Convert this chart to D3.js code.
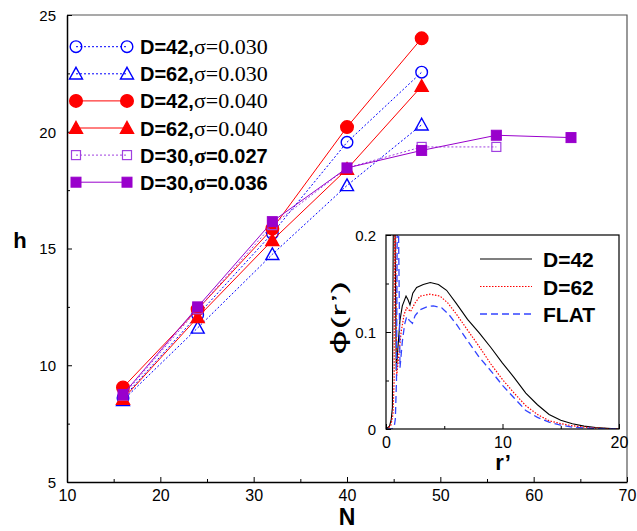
<!DOCTYPE html>
<html><head><meta charset="utf-8">
<script src="https://cdn.jsdelivr.net/npm/d3@7"></script>
<style>body{margin:0;background:#fff}svg{display:block}</style>
</head><body>
<svg id="c" width="637" height="531"></svg>
<script>
// ---------- data ----------
const N_values = [16, 24, 32, 40, 48, 56, 64];
const h_D42_s030 = [8.6, 12.15, 15.65, 19.55, 22.55];
const h_D62_s030 = [8.5, 11.6, 14.75, 17.7, 20.3];
const h_D42_s040 = [9.05, 12.4, 15.85, 20.2, 24.0];
const h_D62_s040 = [8.55, 12.05, 15.35, 18.4, 21.95];
const h_D30_s027 = [8.7, 12.4, 16.0, 18.45, 19.35, 19.35];
const h_D30_s036 = [8.75, 12.5, 16.15, 18.45, 19.2, 19.85, 19.75];
const xTicks = [10, 20, 30, 40, 50, 60, 70];
const yTicks = [5, 10, 15, 20, 25];

const r_D42 = [0, 0.3, 0.45, 0.55, 0.6, 0.68, 0.78, 0.88, 1.0, 1.2, 1.4, 1.72, 1.9, 2.06, 2.3, 2.63, 3.2, 3.8, 4.5, 5.2, 6.0, 7.0, 8.0, 9.0, 10.0, 11.0, 12.0, 13.0, 14.0, 15.0, 16.0, 17.0, 18.0, 19.0, 20.0];
const phi_D42 = [0, 0.003, 0.01, 0.022, 0.15, 0.32, 0.2, 0.06, 0.08, 0.112, 0.127, 0.137, 0.133, 0.128, 0.14, 0.146, 0.149, 0.151, 0.149, 0.143, 0.13, 0.113, 0.099, 0.084, 0.068, 0.053, 0.037, 0.025, 0.015, 0.009, 0.0055, 0.003, 0.0016, 0.0007, 0];
const r_D62 = [0, 0.4, 0.6, 0.7, 0.76, 0.83, 0.92, 1.05, 1.3, 1.55, 1.78, 1.95, 2.1, 2.5, 2.92, 3.78, 4.64, 5.3, 6.07, 7.0, 8.0, 9.0, 10.0, 11.0, 12.0, 13.0, 14.0, 15.0, 16.0, 17.0, 18.0, 19.0, 20.0];
const phi_D62 = [0, 0.003, 0.015, 0.05, 0.32, 0.2, 0.055, 0.07, 0.1, 0.118, 0.125, 0.123, 0.121, 0.13, 0.137, 0.139, 0.137, 0.13, 0.118, 0.102, 0.085, 0.067, 0.051, 0.037, 0.024, 0.015, 0.0085, 0.0055, 0.0033, 0.002, 0.001, 0.0005, 0];
const r_FLAT = [0, 0.5, 0.7, 0.8, 0.9, 1.0, 1.08, 1.2, 1.4, 1.6, 1.78, 2.0, 2.27, 2.5, 2.92, 3.5, 4.06, 4.78, 5.4, 6.07, 7.0, 8.0, 9.0, 10.0, 11.0, 12.0, 13.0, 14.0, 15.0, 16.0, 17.0, 18.0, 19.0, 20.0];
const phi_FLAT = [0, 0, 0.002, 0.01, 0.05, 0.3, 0.2, 0.063, 0.09, 0.108, 0.116, 0.112, 0.109, 0.117, 0.123, 0.126, 0.127, 0.125, 0.118, 0.1075, 0.091, 0.074, 0.06, 0.045, 0.032, 0.019, 0.012, 0.007, 0.004, 0.002, 0.001, 0.0005, 0.0002, 0];
const insetXTicks = [0, 10, 20];
const insetYTicks = [0, 0.1, 0.2];

// ---------- styles ----------
const BLUE = "#0000ff", RED = "#ff0000", PURPLE = "#9900cc", PURPLE_L = "#a040e0";
const SANS = "'Liberation Sans', Arial, sans-serif";
const SERIF = "'Liberation Serif', 'Times New Roman', serif";

const series = [
  {name: "D=42,", sig: "σ=0.030", bold: false, vals: h_D42_s030, color: BLUE, dash: "2,2", shape: "circle", fill: false},
  {name: "D=62,", sig: "σ=0.030", bold: false, vals: h_D62_s030, color: BLUE, dash: "2,2", shape: "triangle", fill: false},
  {name: "D=42,", sig: "σ=0.040", bold: false, vals: h_D42_s040, color: RED, dash: null, shape: "circle", fill: true},
  {name: "D=62,", sig: "σ=0.040", bold: false, vals: h_D62_s040, color: RED, dash: null, shape: "triangle", fill: true},
  {name: "D=30,", sig: "σ=0.027", bold: true, vals: h_D30_s027, color: PURPLE_L, dash: "2,2", shape: "square", fill: false},
  {name: "D=30,", sig: "σ=0.036", bold: true, vals: h_D30_s036, color: PURPLE, dash: null, shape: "square", fill: true}
];

const svg = d3.select("#c");
const L = 67, R = 627, T = 15, B = 482;
const x = d3.scaleLinear().domain([10, 70]).range([L, R]);
const y = d3.scaleLinear().domain([5, 25]).range([B, T]);

// frame top/right
svg.append("path").attr("d", `M${L},${T}H${R}V${B}`).attr("fill", "none").attr("stroke", "#555").attr("stroke-width", 1.2);

// axes
const gy = svg.append("g").attr("transform", `translate(${L},0)`)
  .call(d3.axisLeft(y).tickValues(yTicks).tickSize(-5).tickSizeOuter(0).tickPadding(11).tickFormat(d3.format("d")));
svg.append("g").attr("transform", `translate(${L},0)`)
  .call(d3.axisLeft(y).tickValues([7.5, 12.5, 17.5, 22.5]).tickSize(-3).tickSizeOuter(0).tickFormat(""))
  .select(".domain").remove();
const gx = svg.append("g").attr("transform", `translate(0,${B})`)
  .call(d3.axisBottom(x).tickValues(xTicks).tickSize(-5).tickSizeOuter(0).tickPadding(5).tickFormat(d3.format("d")));
svg.append("g").attr("transform", `translate(0,${B})`)
  .call(d3.axisBottom(x).tickValues([15, 25, 35, 45, 55, 65]).tickSize(-3).tickSizeOuter(0).tickFormat(""))
  .select(".domain").remove();
svg.selectAll(".domain").attr("stroke", "#000").attr("stroke-width", 1.5);
svg.selectAll(".tick line").attr("stroke", "#000");
gy.selectAll("text").attr("font-family", SANS).attr("font-size", 15).attr("fill", "#000").attr("dy", "0.36em");
gx.selectAll("text").attr("font-family", SANS).attr("font-size", 16).attr("fill", "#000").attr("dy", "0.88em");

// axis titles
svg.append("text").attr("x", 20).attr("y", 248).attr("text-anchor", "middle")
  .attr("font-family", SANS).attr("font-weight", "bold").attr("font-size", 22).text("h");
svg.append("text").attr("x", 347).attr("y", 525).attr("text-anchor", "middle")
  .attr("font-family", SANS).attr("font-weight", "bold").attr("font-size", 23).text("N");

function marker(g, shape, cx, cy, color, fill) {
  if (shape === "circle") {
    g.append("circle").attr("cx", cx).attr("cy", cy).attr("r", fill ? 6.3 : 5.8)
      .attr("fill", fill ? color : "none").attr("stroke", color).attr("stroke-width", 1.4);
  } else if (shape === "triangle") {
    const s = 6.5;
    g.append("path").attr("d", `M${cx},${cy - s}L${cx + s},${cy + s * 0.8}L${cx - s},${cy + s * 0.8}Z`)
      .attr("fill", fill ? color : "none").attr("stroke", color).attr("stroke-width", 1.4);
  } else {
    const s = fill ? 5 : 4.5;
    g.append("rect").attr("x", cx - s).attr("y", cy - s).attr("width", 2 * s).attr("height", 2 * s)
      .attr("fill", fill ? color : "none").attr("stroke", color).attr("stroke-width", fill ? 1 : 1.2);
  }
}

// series lines and markers
const line = d3.line().x(d => x(d[0])).y(d => y(d[1]));
series.forEach(s => {
  const pts = s.vals.map((v, i) => [N_values[i], v]);
  const g = svg.append("g");
  g.append("path").attr("d", line(pts)).attr("fill", "none").attr("stroke", s.color)
    .attr("stroke-width", 1).attr("stroke-dasharray", s.dash);
  pts.forEach(p => marker(g, s.shape, x(p[0]), y(p[1]), s.color, s.fill));
});

// legend
const legY0 = 46.7, legDY = 27.1;
series.forEach((s, i) => {
  const yy = legY0 + i * legDY;
  const g = svg.append("g");
  g.append("line").attr("x1", 76).attr("x2", 127).attr("y1", yy).attr("y2", yy)
    .attr("stroke", s.color).attr("stroke-width", 1).attr("stroke-dasharray", s.dash);
  marker(g, s.shape, 76, yy, s.color, s.fill);
  marker(g, s.shape, 127, yy, s.color, s.fill);
  const t = g.append("text").attr("x", 140).attr("y", yy + 7.5).attr("font-size", 20).attr("fill", "#000");
  t.append("tspan").attr("font-family", SANS).attr("font-weight", "bold").text(s.name);
  if (s.bold) {
    t.append("tspan").attr("font-family", SERIF).attr("font-size", 22).attr("font-weight", "bold").text(s.sig.slice(0, 1));
    t.append("tspan").attr("font-family", SANS).attr("font-weight", "bold").text(s.sig.slice(1));
  } else {
    t.append("tspan").attr("font-family", SERIF).attr("font-size", 22).text(s.sig);
  }
});

// ---------- inset ----------
const iL = 386, iR = 619, iT = 235, iB = 429;
const xi = d3.scaleLinear().domain([0, 20]).range([iL, iR]);
const yi = d3.scaleLinear().domain([0, 0.2]).range([iB, iT]);
svg.append("rect").attr("x", iL).attr("y", iT).attr("width", iR - iL).attr("height", iB - iT)
  .attr("fill", "#fff").attr("stroke", "none");
svg.append("defs").append("clipPath").attr("id", "iclip").append("rect")
  .attr("x", iL).attr("y", iT).attr("width", iR - iL).attr("height", iB - iT);

const insetCurves = [
  {r: r_D42, p: phi_D42, color: "#000", dash: null, w: 1.1, label: "D=42"},
  {r: r_D62, p: phi_D62, color: RED, dash: "1.5,1.5", w: 1.2, label: "D=62"},
  {r: r_FLAT, p: phi_FLAT, color: "#3344ff", dash: "7,4", w: 1.3, label: "FLAT"}
];
const iline = d3.line().x(d => xi(d[0])).y(d => yi(d[1]));
const cg = svg.append("g").attr("clip-path", "url(#iclip)");
insetCurves.forEach(c => {
  cg.append("path").attr("d", iline(c.r.map((v, i) => [v, c.p[i]])))
    .attr("fill", "none").attr("stroke", c.color).attr("stroke-width", c.w).attr("stroke-dasharray", c.dash);
});

svg.append("rect").attr("x", iL).attr("y", iT).attr("width", iR - iL).attr("height", iB - iT)
  .attr("fill", "none").attr("stroke", "#000").attr("stroke-width", 1.2);

const giy = svg.append("g").attr("transform", `translate(${iL},0)`)
  .call(d3.axisLeft(yi).tickValues(insetYTicks).tickSize(-5).tickSizeOuter(0).tickPadding(10).tickFormat(d => d === 0 ? "0" : d3.format(".1f")(d)));
svg.append("g").attr("transform", `translate(${iL},0)`)
  .call(d3.axisLeft(yi).tickValues([0.05, 0.15]).tickSize(-3).tickSizeOuter(0).tickFormat(""))
  .select(".domain").remove();
const gix = svg.append("g").attr("transform", `translate(0,${iB})`)
  .call(d3.axisBottom(xi).tickValues(insetXTicks).tickSize(-5).tickSizeOuter(0).tickPadding(5).tickFormat(d3.format("d")));
svg.append("g").attr("transform", `translate(0,${iB})`)
  .call(d3.axisBottom(xi).tickValues([5, 15]).tickSize(-3).tickSizeOuter(0).tickFormat(""))
  .select(".domain").remove();
giy.select(".domain").remove(); gix.select(".domain").remove();
svg.selectAll(".tick line").attr("stroke", "#000");
giy.selectAll("text").attr("font-family", SANS).attr("font-size", 15).attr("fill", "#000").attr("dy", "0.36em");
gix.selectAll("text").attr("font-family", SANS).attr("font-size", 16).attr("fill", "#000").attr("dy", "0.9em");

svg.append("text").attr("x", 503).attr("y", 470).attr("text-anchor", "middle")
  .attr("font-family", SANS).attr("font-weight", "bold").attr("font-size", 22).text("r’");
const phiT = svg.append("text").attr("transform", "translate(346,318) rotate(-90)").attr("text-anchor", "middle")
  .attr("font-size", 21).attr("textLength", 74).attr("lengthAdjust", "spacingAndGlyphs");
phiT.append("tspan").attr("font-family", "'DejaVu Sans', sans-serif").text("ϕ");
phiT.append("tspan").attr("font-family", SANS).text("(r’)");

// inset legend
insetCurves.forEach((c, i) => {
  const yy = 259 + i * 27.5;
  svg.append("line").attr("x1", 480).attr("x2", 532).attr("y1", yy).attr("y2", yy)
    .attr("stroke", c.color).attr("stroke-width", c.w).attr("stroke-dasharray", c.dash);
  svg.append("text").attr("x", 543).attr("y", yy + 8).attr("font-family", SANS).attr("font-weight", "bold")
    .attr("font-size", 21).text(c.label);
});
</script>
</body></html>
